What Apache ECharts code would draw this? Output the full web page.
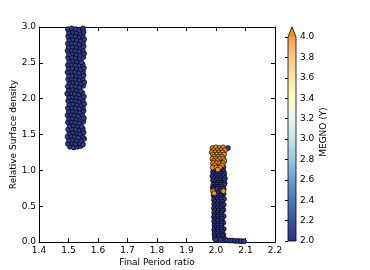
<!DOCTYPE html>
<html><head><meta charset="utf-8">
<script src="https://cdn.jsdelivr.net/npm/echarts@6/dist/echarts.min.js"></script>
<style>html,body{margin:0;padding:0;background:#fff}#c{width:370px;height:270px}</style>
</head><body><div id="c"></div>
<script>
// MEGNO colour scale stops (value, colour)
const cmapStops = [[2.0,'#2c3387'],[2.2,'#3b54a3'],[2.4,'#4a78b8'],[2.6,'#6a9ecd'],[2.8,'#97c8e0'],[3.0,'#c4e5ef'],[3.2,'#e9f5ef'],[3.4,'#fcfbc6'],[3.6,'#fee59e'],[3.8,'#fdc67c'],[4.0,'#f9a14d']];
const overColor = '#f59220';
const xTickVals = [1.4,1.5,1.6,1.7,1.8,1.9,2.0,2.1,2.2];
const yTickVals = [0.0,0.5,1.0,1.5,2.0,2.5,3.0];
const cbTickVals = [2.0,2.2,2.4,2.6,2.8,3.0,3.2,3.4,3.6,3.8,4.0];
const B = 2.05, O = 4.6;
// cluster near period ratio 1.5 : [period ratio, surface density, MEGNO]
const cluster15 = [
[1.505,1.33,B],[1.518,1.32,B],[1.530,1.33,B],[1.541,1.34,B],
[1.498,1.37,B],[1.512,1.38,B],[1.524,1.37,B],[1.537,1.38,B],[1.549,1.36,B],
[1.502,1.42,B],[1.515,1.43,B],[1.528,1.42,B],[1.543,1.41,B],[1.553,1.44,B],
[1.497,1.47,B],[1.509,1.48,B],[1.522,1.47,B],[1.534,1.46,B],[1.547,1.48,B],
[1.503,1.52,B],[1.516,1.53,B],[1.529,1.52,B],[1.540,1.51,B],[1.551,1.53,B],
[1.499,1.57,B],[1.511,1.58,B],[1.525,1.57,B],[1.538,1.56,B],[1.548,1.58,B],
[1.504,1.62,B],[1.517,1.63,B],[1.531,1.62,B],[1.544,1.61,B],
[1.498,1.67,B],[1.510,1.68,B],[1.523,1.67,B],[1.536,1.66,B],[1.550,1.68,B],
[1.502,1.72,B],[1.514,1.73,B],[1.527,1.72,B],[1.541,1.71,B],[1.552,1.73,B],
[1.497,1.77,B],[1.509,1.78,B],[1.520,1.77,B],[1.533,1.76,B],[1.546,1.78,B],
[1.501,1.82,B],[1.515,1.83,B],[1.528,1.82,B],[1.539,1.81,B],[1.551,1.83,B],
[1.498,1.87,B],[1.511,1.88,B],[1.524,1.87,B],[1.537,1.86,B],[1.549,1.88,B],
[1.503,1.92,B],[1.516,1.93,B],[1.530,1.92,B],[1.543,1.91,B],[1.553,1.93,B],
[1.499,1.97,B],[1.512,1.98,B],[1.525,1.97,B],[1.538,1.96,B],[1.548,1.98,B],
[1.502,2.02,B],[1.515,2.03,B],[1.527,2.02,B],[1.540,2.01,B],[1.552,2.03,B],
[1.496,2.07,B],[1.509,2.08,B],[1.522,2.07,B],[1.535,2.06,B],[1.547,2.08,B],
[1.501,2.12,B],[1.514,2.13,B],[1.528,2.12,B],[1.541,2.11,B],
[1.498,2.17,B],[1.511,2.18,B],[1.524,2.17,B],[1.537,2.16,B],[1.550,2.18,B],
[1.503,2.22,B],[1.516,2.23,B],[1.529,2.22,B],[1.543,2.21,B],[1.553,2.23,B],
[1.499,2.27,B],[1.512,2.28,B],[1.525,2.27,B],[1.538,2.26,B],[1.548,2.28,B],
[1.502,2.32,B],[1.515,2.33,B],[1.527,2.32,B],[1.540,2.31,B],[1.551,2.33,B],
[1.497,2.37,B],[1.510,2.38,B],[1.523,2.37,B],[1.536,2.36,B],[1.549,2.38,B],
[1.501,2.42,B],[1.514,2.43,B],[1.528,2.42,B],[1.541,2.41,B],[1.552,2.43,B],
[1.498,2.47,B],[1.511,2.48,B],[1.524,2.47,B],[1.537,2.46,B],[1.548,2.48,B],
[1.503,2.52,B],[1.516,2.53,B],[1.530,2.52,B],[1.543,2.51,B],
[1.499,2.57,B],[1.512,2.58,B],[1.525,2.57,B],[1.538,2.56,B],[1.550,2.58,B],
[1.502,2.62,B],[1.515,2.63,B],[1.527,2.62,B],[1.540,2.61,B],[1.553,2.63,B],
[1.497,2.67,B],[1.510,2.68,B],[1.523,2.67,B],[1.536,2.66,B],[1.548,2.68,B],
[1.501,2.72,B],[1.514,2.73,B],[1.528,2.72,B],[1.541,2.71,B],[1.551,2.73,B],
[1.498,2.77,B],[1.511,2.78,B],[1.524,2.77,B],[1.537,2.76,B],[1.549,2.78,B],
[1.503,2.82,B],[1.516,2.83,B],[1.529,2.82,B],[1.542,2.81,B],[1.553,2.83,B],
[1.499,2.87,B],[1.512,2.88,B],[1.525,2.87,B],[1.538,2.86,B],[1.548,2.88,B],
[1.502,2.92,B],[1.515,2.93,B],[1.527,2.92,B],[1.540,2.91,B],[1.551,2.93,B],
[1.498,2.97,B],[1.511,2.98,B],[1.524,2.97,B],[1.537,2.96,B],[1.549,2.98,B]
];
// cluster near period ratio 2.0 : [period ratio, surface density, MEGNO]
const cluster20 = [
[2.040,1.31,B],[2.017,1.13,B],[2.008,1.07,B],[2.025,1.04,B],[1.994,1.01,B],[2.018,1.01,B],
[1.990,0.98,B],[2.002,0.98,B],[2.014,0.98,B],[2.026,0.98,B],
[1.992,0.95,B],[2.004,0.95,B],[2.016,0.95,B],[2.028,0.95,B],
[1.988,0.92,B],[2.000,0.92,B],[2.012,0.92,B],[2.024,0.92,B],
[1.994,0.89,B],[2.006,0.89,B],[2.018,0.89,B],[2.030,0.89,B],
[1.990,0.86,B],[2.002,0.86,B],[2.014,0.86,B],[2.026,0.86,B],
[1.996,0.83,B],[2.008,0.83,B],[2.020,0.83,B],[2.029,0.82,B],
[1.991,0.80,B],[2.003,0.80,B],[2.015,0.80,B],[2.027,0.80,B],
[1.995,0.77,B],[2.007,0.77,B],[2.019,0.77,B],[1.989,0.76,B],
[1.992,0.74,B],[2.004,0.74,B],[2.016,0.74,B],[2.026,0.74,B],
[2.014,0.71,B],[2.006,0.68,B],[2.026,0.67,B],
[1.992,0.65,B],[2.004,0.65,B],[2.016,0.65,B],
[1.996,0.62,B],[2.008,0.62,B],[2.020,0.62,B],[2.027,0.60,B],
[1.993,0.59,B],[2.005,0.59,B],[2.017,0.59,B],
[1.997,0.56,B],[2.009,0.56,B],[2.021,0.56,B],
[1.994,0.53,B],[2.006,0.53,B],[2.018,0.53,B],[2.026,0.52,B],
[1.996,0.50,B],[2.008,0.50,B],[2.020,0.50,B],
[1.993,0.47,B],[2.005,0.47,B],[2.017,0.47,B],[2.025,0.45,B],
[1.997,0.44,B],[2.009,0.44,B],[2.021,0.44,B],
[1.994,0.41,B],[2.006,0.41,B],[2.018,0.41,B],
[1.996,0.38,B],[2.008,0.38,B],[2.019,0.38,B],[2.026,0.36,B],
[1.993,0.35,B],[2.005,0.35,B],[2.017,0.35,B],
[1.997,0.32,B],[2.009,0.32,B],[2.020,0.32,B],
[1.994,0.29,B],[2.006,0.29,B],[2.018,0.29,B],[2.025,0.27,B],
[1.996,0.26,B],[2.008,0.26,B],[2.019,0.26,B],
[1.995,0.23,B],[2.005,0.23,B],[2.017,0.23,B],
[1.997,0.20,B],[2.009,0.20,B],[2.020,0.20,B],[2.026,0.18,B],
[1.994,0.17,B],[2.006,0.17,B],[2.018,0.17,B],
[1.996,0.14,B],[2.008,0.14,B],[2.020,0.14,B],
[1.995,0.11,B],[2.005,0.11,B],[2.017,0.11,B],[2.025,0.10,B],
[1.997,0.08,B],[2.009,0.08,B],[2.021,0.08,B],
[1.996,0.05,B],[2.008,0.05,B],[2.020,0.05,B],[2.030,0.04,B],
[2.000,0.03,B],[2.015,0.03,B],[2.035,0.025,B],[2.045,0.02,B],[2.055,0.02,B],
[2.065,0.015,B],[2.075,0.015,B],[2.085,0.012,B],[2.095,0.01,B],
[1.990,0.71,O],[2.025,0.71,O],[1.994,0.68,O],
[1.988,1.31,O],[2.000,1.32,O],[2.012,1.31,O],[2.024,1.32,O],
[1.992,1.28,O],[2.005,1.28,O],[2.018,1.28,O],[2.030,1.28,O],
[1.986,1.25,O],[1.998,1.25,O],[2.010,1.25,O],[2.022,1.25,O],
[1.990,1.22,O],[2.003,1.22,O],[2.015,1.22,O],[2.027,1.22,O],
[1.994,1.19,O],[2.007,1.19,O],[2.020,1.19,O],
[1.988,1.16,O],[2.000,1.16,O],[2.012,1.16,O],[2.025,1.16,O],
[1.993,1.13,O],[2.005,1.13,O],[2.028,1.13,O],
[1.990,1.10,O],[2.002,1.10,O],[2.014,1.10,O],[2.023,1.10,O],
[1.995,1.07,O],[2.020,1.07,O],
[1.989,1.04,O],[2.001,1.04,O],[2.013,1.04,O],[2.006,1.01,O]
];

function hexToRgb(h){return [parseInt(h.slice(1,3),16),parseInt(h.slice(3,5),16),parseInt(h.slice(5,7),16)];}
function cmap(v){
  if (v > cmapStops[cmapStops.length-1][0]) return overColor;
  if (v <= cmapStops[0][0]) return cmapStops[0][1];
  for (let i=1;i<cmapStops.length;i++){
    if (v <= cmapStops[i][0]){
      const a=cmapStops[i-1], b=cmapStops[i], t=(v-a[0])/(b[0]-a[0]);
      const ca=hexToRgb(a[1]), cb=hexToRgb(b[1]);
      return 'rgb('+ca.map((c,k)=>Math.round(c+(cb[k]-c)*t)).join(',')+')';
    }
  }
}
const FONT = 'DejaVu Sans';
const fmt1 = v => v.toFixed(1);
const lab = {fontFamily:FONT,fontSize:9,color:'#000'};
const chart = echarts.init(document.getElementById('c'));
const allPts = cluster15.concat(cluster20);
const cbMin = cbTickVals[0], cbMax = cbTickVals[cbTickVals.length-1];
chart.setOption({
  animation:false,
  grid:[
    {left:39,right:95,top:27,bottom:28,show:false,containLabel:false,outerBoundsMode:'none'},
    {left:288,width:8,top:37,bottom:29,show:false,containLabel:false,outerBoundsMode:'none'}
  ],
  xAxis:[
    {gridIndex:0,type:'value',min:xTickVals[0],max:xTickVals[xTickVals.length-1],interval:0.1,
     name:'Final Period ratio',nameLocation:'middle',nameGap:16,nameTextStyle:lab,nameMoveOverlap:false,
     axisLine:{onZero:false,lineStyle:{color:'#000',width:1}},
     axisTick:{inside:true,length:4,lineStyle:{color:'#000'}},
     axisLabel:Object.assign({formatter:fmt1,margin:4},lab),splitLine:{show:false}},
    {gridIndex:0,type:'value',position:'top',min:xTickVals[0],max:xTickVals[xTickVals.length-1],interval:0.1,
     axisLine:{onZero:false,lineStyle:{color:'#000',width:1}},
     axisTick:{inside:true,length:4,lineStyle:{color:'#000'}},
     axisLabel:{show:false},splitLine:{show:false}},
    {gridIndex:1,type:'value',min:0,max:1,show:false}
  ],
  yAxis:[
    {gridIndex:0,type:'value',min:yTickVals[0],max:yTickVals[yTickVals.length-1],interval:0.5,
     name:'Relative Surface density',nameLocation:'middle',nameGap:21,nameRotate:90,nameTextStyle:lab,nameMoveOverlap:false,
     axisLine:{onZero:false,lineStyle:{color:'#000',width:1}},
     axisTick:{inside:true,length:4,lineStyle:{color:'#000'}},
     axisLabel:Object.assign({formatter:fmt1,margin:3},lab),splitLine:{show:false}},
    {gridIndex:0,type:'value',position:'right',min:yTickVals[0],max:yTickVals[yTickVals.length-1],interval:0.5,
     axisLine:{onZero:false,lineStyle:{color:'#000',width:1}},
     axisTick:{inside:true,length:4,lineStyle:{color:'#000'}},
     axisLabel:{show:false},splitLine:{show:false}},
    {gridIndex:1,type:'value',position:'right',min:cbMin,max:cbMax,interval:0.2,
     name:'MEGNO ⟨Y⟩',nameLocation:'middle',nameGap:23,nameRotate:90,nameMoveOverlap:false,
     nameTextStyle:Object.assign({padding:[0,0,0,14]},lab),
     axisLine:{show:false},
     axisTick:{inside:true,length:3,lineStyle:{color:'#000'}},
     axisLabel:Object.assign({formatter:fmt1,margin:4},lab),splitLine:{show:false}}
  ],
  series:[
    {type:'scatter',xAxisIndex:0,yAxisIndex:0,data:allPts,symbolSize:5,clip:true,
     itemStyle:{color:p=>cmap(p.value[2]),borderColor:'#000',borderWidth:0.7,opacity:1},z:2},
    {type:'custom',xAxisIndex:2,yAxisIndex:2,data:[[0,cbMin,1,cbMax]],z:1,
     renderItem:(params,api)=>{
       const p0 = api.coord([api.value(0),api.value(1)]);
       const p1 = api.coord([api.value(2),api.value(3)]);
       const x0=p0[0], x1=p1[0], yb=p0[1], yt=p1[1];
       const ext = (yb-yt)*0.05;
       const stops = cmapStops.map(s=>({offset:(s[0]-cbMin)/(cbMax-cbMin),color:s[1]}));
       return {type:'group',children:[
         {type:'rect',shape:{x:x0,y:yt,width:x1-x0,height:yb-yt},
          style:{fill:new echarts.graphic.LinearGradient(0,1,0,0,stops)}},
         {type:'polygon',shape:{points:[[x0,yt],[x1,yt],[(x0+x1)/2,yt-ext]]},style:{fill:overColor}},
         {type:'polygon',shape:{points:[[x0,yb],[x0,yt],[(x0+x1)/2,yt-ext],[x1,yt],[x1,yb]]},
          style:{fill:null,stroke:'#000',lineWidth:0.8}}
       ]};
     }}
  ]
});
</script></body></html>
